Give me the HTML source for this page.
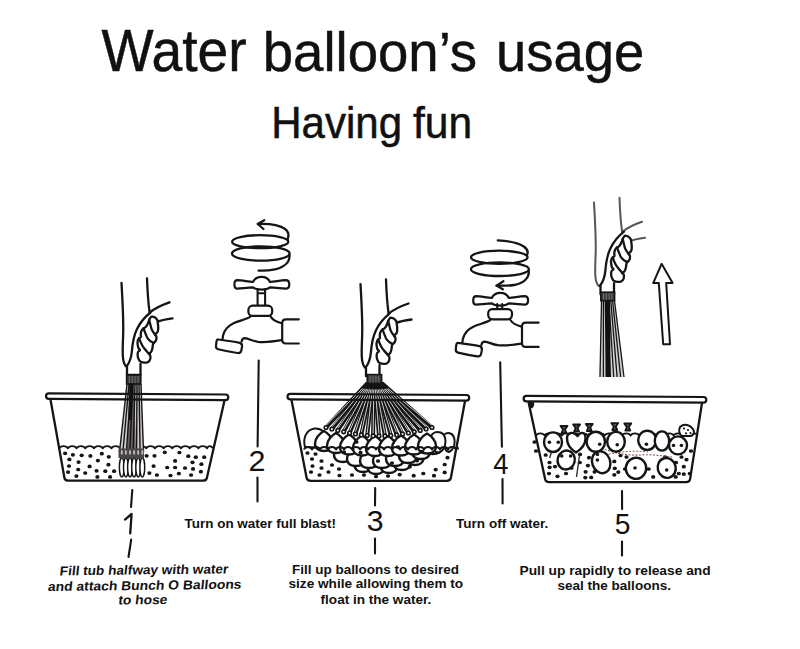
<!DOCTYPE html>
<html><head><meta charset="utf-8">
<style>
html,body{margin:0;padding:0;background:#fff;width:800px;height:649px;overflow:hidden}
svg{display:block}
text{font-family:"Liberation Sans",sans-serif;fill:#111}
</style></head>
<body>
<svg width="800" height="649" viewBox="0 0 800 649">
<rect width="800" height="649" fill="#fff"/>
<text x="101.40" y="71.00" font-size="58.5" font-weight="normal" font-style="normal" textLength="145.18" lengthAdjust="spacingAndGlyphs" stroke="#111" stroke-width="0.5">Water</text>
<g transform="translate(0,3.55) scale(1,0.95)"><text x="262.80" y="71.00" font-size="58.5" font-weight="normal" font-style="normal" textLength="214.23" lengthAdjust="spacingAndGlyphs" stroke="#111" stroke-width="0.5">balloon’s</text></g>
<g transform="translate(0,3.55) scale(1,0.95)"><text x="496.00" y="71.00" font-size="58.5" font-weight="normal" font-style="normal" textLength="148.19" lengthAdjust="spacingAndGlyphs" stroke="#111" stroke-width="0.5">usage</text></g>
<text x="271.20" y="137.90" font-size="44" font-weight="normal" font-style="normal" textLength="130.87" lengthAdjust="spacingAndGlyphs" stroke="#111" stroke-width="0.5">Having</text>
<text x="413.00" y="137.90" font-size="44" font-weight="normal" font-style="normal" textLength="59.13" lengthAdjust="spacingAndGlyphs" stroke="#111" stroke-width="0.5">fun</text>
<text x="248.60" y="470.88" font-size="29" font-weight="normal" font-style="normal" textLength="16.97" lengthAdjust="spacingAndGlyphs">2</text>
<text x="366.80" y="531.08" font-size="29" font-weight="normal" font-style="normal" textLength="16.79" lengthAdjust="spacingAndGlyphs">3</text>
<text x="493.30" y="473.58" font-size="29" font-weight="normal" font-style="normal" textLength="15.20" lengthAdjust="spacingAndGlyphs">4</text>
<text x="614.80" y="534.48" font-size="29" font-weight="normal" font-style="normal" textLength="15.71" lengthAdjust="spacingAndGlyphs">5</text>
<text x="184.60" y="527.52" font-size="13.5" font-weight="bold" font-style="normal" textLength="151.43" lengthAdjust="spacingAndGlyphs">Turn on water full blast!</text>
<text x="456.10" y="527.52" font-size="13.5" font-weight="bold" font-style="normal" textLength="92.15" lengthAdjust="spacingAndGlyphs">Turn off water.</text>
<g transform="rotate(-0.7 144 585)"><g transform="translate(70.52,0) skewX(-7)"><text x="59.50" y="574.36" font-size="13" font-weight="bold" textLength="168.52" lengthAdjust="spacingAndGlyphs">Fill tub halfway with water</text></g></g>
<g transform="rotate(-0.7 144 585)"><g transform="translate(72.43,0) skewX(-7)"><text x="47.50" y="589.86" font-size="13" font-weight="bold" textLength="193.53" lengthAdjust="spacingAndGlyphs">and attach Bunch O Balloons</text></g></g>
<g transform="rotate(-0.7 144 585)"><g transform="translate(74.19,0) skewX(-7)"><text x="117.75" y="604.26" font-size="13" font-weight="bold" textLength="49.01" lengthAdjust="spacingAndGlyphs">to hose</text></g></g>
<text x="292.00" y="574.26" font-size="13" font-weight="bold" font-style="normal" textLength="166.93" lengthAdjust="spacingAndGlyphs">Fill up balloons to desired</text>
<text x="288.50" y="588.46" font-size="13" font-weight="bold" font-style="normal" textLength="174.63" lengthAdjust="spacingAndGlyphs">size while allowing them to</text>
<text x="320.60" y="603.56" font-size="13" font-weight="bold" font-style="normal" textLength="110.66" lengthAdjust="spacingAndGlyphs">float in the water.</text>
<text x="519.50" y="574.86" font-size="13" font-weight="bold" font-style="normal" textLength="191.09" lengthAdjust="spacingAndGlyphs">Pull up rapidly to release and</text>
<text x="557.40" y="590.16" font-size="13" font-weight="bold" font-style="normal" textLength="113.59" lengthAdjust="spacingAndGlyphs">seal the balloons.</text>
<path d="M125,519.6 L131.6,514 L130.2,533.3" fill="none" stroke="#151515" stroke-width="2.3" stroke-linecap="round" stroke-linejoin="round"/>
<defs><g id="handArms" fill="none" stroke="currentColor" stroke-linecap="round" stroke-linejoin="round">
<path d="M121.5,283 C122.5,300 123.5,318 123.2,332 C123,345 121.8,355 123.5,361 C124.3,364 125.3,366 126.5,366.5"/>
<path d="M147,278.3 C147.5,292 148.3,303 149.5,311.5"/>
<path d="M149.5,312.5 C156,307.5 163,304.5 169.5,302.3"/>
<path d="M155.5,322.5 C161,320 166,319 172.5,318.3"/>
</g>
<g id="handGrip" fill="none" stroke="#151515" stroke-width="2.3" stroke-linecap="round" stroke-linejoin="round">
<path d="M126.5,366.5 C128.5,364 131,360 131.8,352 C132.5,343 133.5,336 137,329 C141,321 146,316 150.5,312.5"/>
<path fill="#fff" d="M152.40,316.60 C154.26,316.84 154.78,316.79 156.40,318.80 C158.02,320.81 157.26,320.33 157.80,323.30 C158.34,326.27 158.35,326.03 158.20,328.70 C158.05,331.37 158.23,330.46 157.30,332.20 C156.37,333.94 155.37,333.15 155.10,334.50 C154.83,335.85 156.13,334.96 156.40,336.70 C156.67,338.44 156.78,338.41 156.00,340.30 C155.22,342.19 154.73,341.68 153.80,343.00 C152.87,344.32 153.32,343.11 152.90,344.70 C152.48,346.29 152.94,346.14 152.40,348.30 C151.86,350.46 152.15,350.28 151.10,351.90 C150.05,353.52 149.17,352.65 148.90,353.70 C148.63,354.75 149.81,353.81 150.20,355.40 C150.59,356.99 150.74,357.11 150.20,359.00 C149.66,360.89 149.87,360.62 148.40,361.70 C146.93,362.78 147.58,362.60 145.30,362.60 C143.02,362.60 142.81,362.78 140.80,361.70 C138.79,360.62 139.53,360.89 138.60,359.00 C137.67,357.11 137.85,357.53 137.70,355.40 C137.55,353.27 137.44,353.49 138.10,351.90 C138.76,350.31 139.75,351.18 139.90,350.10 C140.05,349.02 139.26,349.92 138.60,348.30 C137.94,346.68 137.97,346.83 137.70,344.70 C137.43,342.57 137.31,343.06 137.70,341.20 C138.09,339.34 138.07,339.73 139.00,338.50 C139.93,337.27 140.26,338.18 140.80,337.10 C141.34,336.02 140.65,336.64 140.80,334.90 C140.95,333.16 140.61,333.16 141.30,331.30 C141.99,329.44 141.90,329.90 143.10,328.70 C144.30,327.50 143.98,328.65 145.30,327.30 C146.62,325.95 146.42,326.21 147.50,324.20 C148.58,322.19 148.09,322.46 148.90,320.60 C149.71,318.74 149.15,319.20 150.20,318.00 C151.25,316.80 150.54,316.36 152.40,316.60 Z"/>
<path d="M149.20,319.60 C149.62,321.37 149.67,322.20 150.60,325.50 C151.53,328.80 150.95,327.90 152.30,330.60 C153.65,333.30 154.26,333.33 155.10,334.50"/>
<path d="M143.60,328.30 C144.26,330.07 144.30,330.87 145.80,334.20 C147.30,337.53 146.20,336.76 148.60,339.40 C151.00,342.04 152.24,341.92 153.80,343.00"/>
<path d="M139.30,338.30 C139.93,339.95 139.81,340.65 141.40,343.80 C142.99,346.95 142.35,345.83 144.60,348.80 C146.85,351.77 147.61,352.23 148.90,353.70"/>
<path d="M127,366.5 L127,375 M140.5,364 L140.5,375 M127,375 L140.5,375"/>
</g></defs>
<use href="#handArms" style="color:#151515" stroke-width="2.3"/>
<use href="#handGrip"/>
<use href="#handArms" style="color:#151515" stroke-width="2.3" transform="translate(239,1.2)"/>
<use href="#handGrip" transform="translate(239,1.2)"/>
<use href="#handArms" style="color:#555" stroke-width="2" transform="translate(472.5,-80.5)"/>
<use href="#handGrip" transform="translate(473.5,-80.8)"/>
<defs><g id="fbody" fill="none" stroke="#151515" stroke-width="2.2" stroke-linecap="round" stroke-linejoin="round">
<rect x="248.4" y="305.7" width="23.8" height="10.2" rx="4.2" fill="#fff"/>
<path d="M250.4,316.6 C246,319.5 240,320.5 234,323 C228,325.8 224.5,330 223.2,335 C222.8,337 222.6,338.5 222.5,339.8"/>
<path d="M270.6,316.6 C272.5,319.5 276,321.8 281.6,323.2"/>
<path d="M241.6,341.5 C242,339.5 242.8,338.2 245,338.2 C249,338.5 252,341 258,341.8 C266,342.6 274,341.5 281.5,340.2"/>
<path d="M218.6,339.5 C224,340.2 233,341.4 239.8,342.8 C242.2,343.3 242.3,345 242,347 L241.3,350.5 C240.9,352.6 239.6,353.3 237.5,353 C231,352 224,350.6 218.2,349.2 C216.2,348.7 215.7,347.4 216,345.5 L216.5,341.5 C216.8,339.8 217.4,339.3 218.6,339.5 Z"/>
<path d="M298.8,319.3 L286,319.3 C283.5,319.3 282.2,320.5 282.2,323 L282.2,339.8 C282.2,342.3 283.5,343.5 286,343.5 L298.8,343.5"/>
</g></defs>
<use href="#fbody"/>
<use href="#fbody" transform="translate(239.8,3.4)"/>
<g transform="translate(0,0)" fill="#fff" stroke="#151515" stroke-width="2.2" stroke-linejoin="round"><path d="M237.5,280.2 C242,280.4 248,281.6 253,282 C254.5,278.5 258,276.8 261.5,276.8 C265,276.8 268.5,278.5 270,282 C275,281.6 281,280.4 285.5,280.2 C288.3,280.2 289.3,282.3 289.3,284.4 C289.3,286.6 288.3,288.6 285.5,288.6 C281,288.4 275,287.5 270,287.4 C268,289.2 265,289.6 261.5,289.6 C258,289.6 255,289.2 253,287.4 C248,287.5 242,288.4 237.5,288.6 C235.3,288.6 234.4,286.6 234.4,284.4 C234.4,282.3 235.3,280.2 237.5,280.2 Z"/></g>
<g transform="translate(238.8,16)" fill="#fff" stroke="#151515" stroke-width="2.2" stroke-linejoin="round"><path d="M237.5,280.2 C242,280.4 248,281.6 253,282 C254.5,278.5 258,276.8 261.5,276.8 C265,276.8 268.5,278.5 270,282 C275,281.6 281,280.4 285.5,280.2 C288.3,280.2 289.3,282.3 289.3,284.4 C289.3,286.6 288.3,288.6 285.5,288.6 C281,288.4 275,287.5 270,287.4 C268,289.2 265,289.6 261.5,289.6 C258,289.6 255,289.2 253,287.4 C248,287.5 242,288.4 237.5,288.6 C235.3,288.6 234.4,286.6 234.4,284.4 C234.4,282.3 235.3,280.2 237.5,280.2 Z"/></g>
<g fill="none" stroke="#151515" stroke-width="2.1" stroke-linecap="round"><path d="M257.6,289 L257.6,305 M265.1,289 L265.1,305 M257.6,293.2 L265.1,293.2"/><path d="M497.2,304 L497.2,308.5 M502.2,304 L502.2,308.5"/></g>
<g fill="none" stroke="#151515" stroke-width="2.3" stroke-linecap="round" stroke-linejoin="round">
<ellipse cx="260.2" cy="241.7" rx="28.1" ry="6.5"/>
<ellipse cx="260.8" cy="253.5" rx="28.8" ry="7.2"/>
<path d="M257.8,224 C268,223.5 279,225 284.8,228.8 C288.6,231.5 289.2,235.5 287.6,239.5"/>
<path d="M264.2,220.2 L257.8,224 L263.5,229"/>
<path d="M289.5,255 C290,262 284.5,267.3 275,269.4 C268.5,270.7 263,270.8 258.6,270.6"/>
<ellipse cx="499.3" cy="257.3" rx="28.3" ry="6.6"/>
<ellipse cx="499.9" cy="269.2" rx="29" ry="6.8"/>
<path d="M497.8,240.4 C508,240.8 518,242.8 523.8,246.5 C527.5,249.2 528.3,252.5 527,255"/>
<path d="M528.7,270.5 C529.8,277.5 524,283.2 514,285 C508,286 502,285.8 496.6,285.6"/>
<path d="M503.4,281.2 L496.6,285.6 L502.8,289.3"/>
</g>
<path d="M661.6,263.8 L672.6,283 L666.2,283.1 L670,344.2 L663.2,344.3 L658.8,283.1 L653.2,283.1 Z" fill="#fff" stroke="#151515" stroke-width="2" stroke-linejoin="round"/>
<path d="M601.3,300.6 L599.5,377 L624,377 L614.6,300.6 Z" fill="#d0d0d0"/>
<line x1="601.5" y1="300.6" x2="600.0" y2="377" stroke="#151515" stroke-width="1.3"/>
<line x1="603.4" y1="300.6" x2="603.4" y2="377" stroke="#151515" stroke-width="1.3"/>
<line x1="605.2" y1="300.6" x2="606.9" y2="377" stroke="#151515" stroke-width="1.3"/>
<line x1="607.1" y1="300.6" x2="610.3" y2="377" stroke="#151515" stroke-width="1.3"/>
<line x1="608.9" y1="300.6" x2="613.7" y2="377" stroke="#151515" stroke-width="1.3"/>
<line x1="610.8" y1="300.6" x2="617.1" y2="377" stroke="#151515" stroke-width="1.3"/>
<line x1="612.6" y1="300.6" x2="620.6" y2="377" stroke="#151515" stroke-width="1.3"/>
<line x1="614.5" y1="300.6" x2="624.0" y2="377" stroke="#151515" stroke-width="1.3"/>
<path d="M605.5,300.6 L605.5,377 L610.5,377 L610,300.6 Z" fill="#111"/>
<rect x="600.8" y="292.2" width="13.8" height="8.4" fill="#3a3a3a" stroke="#151515" stroke-width="1.6"/>
<line x1="603.6" y1="293.2" x2="603.6" y2="299.59999999999997" stroke="#888" stroke-width="0.7"/>
<line x1="606.3" y1="293.2" x2="606.3" y2="299.59999999999997" stroke="#888" stroke-width="0.7"/>
<line x1="609.1" y1="293.2" x2="609.1" y2="299.59999999999997" stroke="#888" stroke-width="0.7"/>
<line x1="611.8" y1="293.2" x2="611.8" y2="299.59999999999997" stroke="#888" stroke-width="0.7"/>
<path d="M59.2,448.3 C60.5,445.3 66.6,445.3 67.9,448.3 C69.2,445.3 75.3,445.3 76.6,448.3 C77.9,445.3 84.0,445.3 85.3,448.3 C86.6,445.3 92.7,445.3 94.0,448.3 C95.3,445.3 101.4,445.3 102.7,448.3 C104.0,445.3 110.1,445.3 111.4,448.3 C112.7,445.3 118.8,445.3 120.1,448.3 C121.4,445.3 127.5,445.3 128.8,448.3 C130.1,445.3 136.2,445.3 137.5,448.3 C138.8,445.3 144.9,445.3 146.2,448.3 C147.5,445.3 153.6,445.3 154.9,448.3 C156.2,445.3 162.3,445.3 163.6,448.3 C164.9,445.3 171.0,445.3 172.3,448.3 C173.6,445.3 179.7,445.3 181.0,448.3 C182.3,445.3 188.4,445.3 189.7,448.3 C191.0,445.3 197.1,445.3 198.4,448.3 C199.7,445.3 205.8,445.3 207.1,448.3 C207.9,445.3 211.7,445.3 212.5,448.3" fill="none" stroke="#151515" stroke-width="1.8" stroke-linejoin="round"/>
<ellipse cx="65.1" cy="453.3" rx="2.1" ry="1.85" fill="#151515"/>
<ellipse cx="72.9" cy="454.8" rx="2.1" ry="1.85" fill="#151515"/>
<ellipse cx="81.7" cy="455.3" rx="2.1" ry="1.85" fill="#151515"/>
<ellipse cx="90.4" cy="455.9" rx="2.1" ry="1.85" fill="#151515"/>
<ellipse cx="101.8" cy="453.7" rx="2.1" ry="1.85" fill="#151515"/>
<ellipse cx="108.8" cy="456.8" rx="2.1" ry="1.85" fill="#151515"/>
<ellipse cx="69.4" cy="459.4" rx="2.1" ry="1.85" fill="#151515"/>
<ellipse cx="78.6" cy="462.1" rx="2.1" ry="1.85" fill="#151515"/>
<ellipse cx="97.9" cy="460.6" rx="2.1" ry="1.85" fill="#151515"/>
<ellipse cx="69.0" cy="466.0" rx="2.1" ry="1.85" fill="#151515"/>
<ellipse cx="89.6" cy="466.4" rx="2.1" ry="1.85" fill="#151515"/>
<ellipse cx="108.4" cy="464.7" rx="2.1" ry="1.85" fill="#151515"/>
<ellipse cx="78.2" cy="469.5" rx="2.1" ry="1.85" fill="#151515"/>
<ellipse cx="68.1" cy="472.1" rx="2.1" ry="1.85" fill="#151515"/>
<ellipse cx="85.2" cy="473.0" rx="2.1" ry="1.85" fill="#151515"/>
<ellipse cx="96.6" cy="470.8" rx="2.1" ry="1.85" fill="#151515"/>
<ellipse cx="105.3" cy="471.2" rx="2.1" ry="1.85" fill="#151515"/>
<ellipse cx="114.1" cy="471.2" rx="2.1" ry="1.85" fill="#151515"/>
<ellipse cx="76.4" cy="476.1" rx="2.1" ry="1.85" fill="#151515"/>
<ellipse cx="97.4" cy="476.9" rx="2.1" ry="1.85" fill="#151515"/>
<ellipse cx="110.1" cy="476.9" rx="2.1" ry="1.85" fill="#151515"/>
<ellipse cx="146.6" cy="455.8" rx="2.1" ry="1.85" fill="#151515"/>
<ellipse cx="154.5" cy="455.8" rx="2.1" ry="1.85" fill="#151515"/>
<ellipse cx="164.8" cy="452.3" rx="2.1" ry="1.85" fill="#151515"/>
<ellipse cx="179.4" cy="452.5" rx="2.1" ry="1.85" fill="#151515"/>
<ellipse cx="188.3" cy="456.2" rx="2.1" ry="1.85" fill="#151515"/>
<ellipse cx="195.8" cy="457.2" rx="2.1" ry="1.85" fill="#151515"/>
<ellipse cx="204.2" cy="457.2" rx="2.1" ry="1.85" fill="#151515"/>
<ellipse cx="175.1" cy="460.9" rx="2.1" ry="1.85" fill="#151515"/>
<ellipse cx="192.5" cy="462.3" rx="2.1" ry="1.85" fill="#151515"/>
<ellipse cx="201.4" cy="464.2" rx="2.1" ry="1.85" fill="#151515"/>
<ellipse cx="153.6" cy="466.1" rx="2.1" ry="1.85" fill="#151515"/>
<ellipse cx="167.2" cy="467.5" rx="2.1" ry="1.85" fill="#151515"/>
<ellipse cx="175.1" cy="467.5" rx="2.1" ry="1.85" fill="#151515"/>
<ellipse cx="185.0" cy="468.0" rx="2.1" ry="1.85" fill="#151515"/>
<ellipse cx="193.0" cy="468.9" rx="2.1" ry="1.85" fill="#151515"/>
<ellipse cx="200.9" cy="471.7" rx="2.1" ry="1.85" fill="#151515"/>
<ellipse cx="149.4" cy="473.1" rx="2.1" ry="1.85" fill="#151515"/>
<ellipse cx="156.9" cy="475.0" rx="2.1" ry="1.85" fill="#151515"/>
<ellipse cx="170.5" cy="475.5" rx="2.1" ry="1.85" fill="#151515"/>
<ellipse cx="178.9" cy="473.6" rx="2.1" ry="1.85" fill="#151515"/>
<ellipse cx="191.1" cy="475.0" rx="2.1" ry="1.85" fill="#151515"/>
<path d="M127,384 L119,452 L144,452 L141,384 Z" fill="#d0cccc"/>
<path d="M129,384 L127,452 L136,452 L134,384 Z" fill="#6a6060"/>
<line x1="127.0" y1="384" x2="119.5" y2="452" stroke="#151515" stroke-width="1.4"/>
<line x1="129.0" y1="384" x2="122.9" y2="452" stroke="#151515" stroke-width="1.4"/>
<line x1="131.0" y1="384" x2="126.4" y2="452" stroke="#151515" stroke-width="1.4"/>
<line x1="133.0" y1="384" x2="129.8" y2="452" stroke="#151515" stroke-width="1.4"/>
<line x1="135.0" y1="384" x2="133.2" y2="452" stroke="#151515" stroke-width="1.4"/>
<line x1="137.0" y1="384" x2="136.6" y2="452" stroke="#151515" stroke-width="1.4"/>
<line x1="139.0" y1="384" x2="140.1" y2="452" stroke="#151515" stroke-width="1.4"/>
<line x1="141.0" y1="384" x2="143.5" y2="452" stroke="#151515" stroke-width="1.4"/>
<path d="M129.5,384 L129,420 L131.5,420 L133,384 Z" fill="#111"/>
<ellipse cx="121.8" cy="467.3" rx="2.4" ry="9.6" fill="#fff" stroke="#151515" stroke-width="1.5"/>
<ellipse cx="125.9" cy="467.3" rx="2.4" ry="9.6" fill="#fff" stroke="#151515" stroke-width="1.5"/>
<ellipse cx="130.0" cy="467.3" rx="2.4" ry="9.6" fill="#fff" stroke="#151515" stroke-width="1.5"/>
<ellipse cx="134.1" cy="467.3" rx="2.4" ry="9.6" fill="#fff" stroke="#151515" stroke-width="1.5"/>
<ellipse cx="138.2" cy="467.3" rx="2.4" ry="9.6" fill="#fff" stroke="#151515" stroke-width="1.5"/>
<ellipse cx="142.3" cy="467.3" rx="2.4" ry="9.6" fill="#fff" stroke="#151515" stroke-width="1.5"/>
<rect x="118.5" y="448.5" width="25.5" height="9.5" fill="#4a4444"/>
<ellipse cx="121.8" cy="452.5" rx="1.0" ry="2.4" fill="#bbb"/>
<ellipse cx="125.9" cy="452.5" rx="1.0" ry="2.4" fill="#bbb"/>
<ellipse cx="130.0" cy="452.5" rx="1.0" ry="2.4" fill="#bbb"/>
<ellipse cx="134.1" cy="452.5" rx="1.0" ry="2.4" fill="#bbb"/>
<ellipse cx="138.2" cy="452.5" rx="1.0" ry="2.4" fill="#bbb"/>
<ellipse cx="142.3" cy="452.5" rx="1.0" ry="2.4" fill="#bbb"/>
<rect x="126.6" y="375" width="14.2" height="9" fill="#3a3a3a" stroke="#151515" stroke-width="1.6"/>
<line x1="129.4" y1="376" x2="129.4" y2="383" stroke="#888" stroke-width="0.7"/>
<line x1="132.3" y1="376" x2="132.3" y2="383" stroke="#888" stroke-width="0.7"/>
<line x1="135.1" y1="376" x2="135.1" y2="383" stroke="#888" stroke-width="0.7"/>
<line x1="138.0" y1="376" x2="138.0" y2="383" stroke="#888" stroke-width="0.7"/>
<rect x="46" y="393.9" width="182.3" height="5.6" rx="2.8" fill="none" stroke="#151515" stroke-width="2.2" transform="rotate(0.38 137.2 396.7)"/>
<path d="M50.5,399.5 L64.5,478.2 Q65.5,480.7 68.3,480.7 L203.0,480.7 Q205.8,480.7 206.8,478.2 L224.5,400.6" fill="none" stroke="#151515" stroke-width="2.3" stroke-linejoin="round"/>
<ellipse cx="307.5" cy="453.0" rx="2.1" ry="1.85" fill="#151515"/>
<ellipse cx="315.5" cy="454.0" rx="2.1" ry="1.85" fill="#151515"/>
<ellipse cx="312.0" cy="459.0" rx="2.1" ry="1.85" fill="#151515"/>
<ellipse cx="321.5" cy="461.0" rx="2.1" ry="1.85" fill="#151515"/>
<ellipse cx="312.5" cy="466.0" rx="2.1" ry="1.85" fill="#151515"/>
<ellipse cx="321.5" cy="468.0" rx="2.1" ry="1.85" fill="#151515"/>
<ellipse cx="332.0" cy="465.0" rx="2.1" ry="1.85" fill="#151515"/>
<ellipse cx="311.0" cy="472.0" rx="2.1" ry="1.85" fill="#151515"/>
<ellipse cx="319.5" cy="475.0" rx="2.1" ry="1.85" fill="#151515"/>
<ellipse cx="328.5" cy="472.0" rx="2.1" ry="1.85" fill="#151515"/>
<ellipse cx="339.5" cy="475.5" rx="2.1" ry="1.85" fill="#151515"/>
<ellipse cx="352.0" cy="475.0" rx="2.1" ry="1.85" fill="#151515"/>
<ellipse cx="364.0" cy="475.0" rx="2.1" ry="1.85" fill="#151515"/>
<ellipse cx="339.0" cy="469.0" rx="2.1" ry="1.85" fill="#151515"/>
<ellipse cx="447.5" cy="457.7" rx="2.1" ry="1.85" fill="#151515"/>
<ellipse cx="444.7" cy="464.5" rx="2.1" ry="1.85" fill="#151515"/>
<ellipse cx="435.7" cy="469.6" rx="2.1" ry="1.85" fill="#151515"/>
<ellipse cx="444.7" cy="472.4" rx="2.1" ry="1.85" fill="#151515"/>
<ellipse cx="434.0" cy="475.7" rx="2.1" ry="1.85" fill="#151515"/>
<ellipse cx="423.3" cy="473.5" rx="2.1" ry="1.85" fill="#151515"/>
<ellipse cx="413.7" cy="475.7" rx="2.1" ry="1.85" fill="#151515"/>
<ellipse cx="399.7" cy="474.6" rx="2.1" ry="1.85" fill="#151515"/>
<ellipse cx="388.0" cy="476.0" rx="2.1" ry="1.85" fill="#151515"/>
<ellipse cx="376.0" cy="476.5" rx="2.1" ry="1.85" fill="#151515"/>
<path d="M363.0,453.0 C367.2,455.3 371.5,460.2 371.5,464.8 C371.5,470.1 367.2,472.0 363.0,472.0 C358.8,472.0 354.5,470.1 354.5,464.8 C354.5,460.2 358.8,455.3 363.0,453.0 Z" fill="#fff" stroke="#151515" stroke-width="2.4" stroke-linejoin="round"/>
<path d="M376.0,455.0 C380.2,457.3 384.5,462.2 384.5,466.8 C384.5,472.1 380.2,474.0 376.0,474.0 C371.8,474.0 367.5,472.1 367.5,466.8 C367.5,462.2 371.8,457.3 376.0,455.0 Z" fill="#fff" stroke="#151515" stroke-width="2.4" stroke-linejoin="round"/>
<path d="M389.0,454.0 C393.2,456.3 397.5,461.2 397.5,465.8 C397.5,471.1 393.2,473.0 389.0,473.0 C384.8,473.0 380.5,471.1 380.5,465.8 C380.5,461.2 384.8,456.3 389.0,454.0 Z" fill="#fff" stroke="#151515" stroke-width="2.4" stroke-linejoin="round"/>
<path d="M402.0,451.0 C406.2,453.3 410.5,458.2 410.5,462.8 C410.5,468.1 406.2,470.0 402.0,470.0 C397.8,470.0 393.5,468.1 393.5,462.8 C393.5,458.2 397.8,453.3 402.0,451.0 Z" fill="#fff" stroke="#151515" stroke-width="2.4" stroke-linejoin="round"/>
<path d="M415.0,446.0 C419.2,448.3 423.5,453.2 423.5,457.8 C423.5,463.1 419.2,465.0 415.0,465.0 C410.8,465.0 406.5,463.1 406.5,457.8 C406.5,453.2 410.8,448.3 415.0,446.0 Z" fill="#fff" stroke="#151515" stroke-width="2.4" stroke-linejoin="round"/>
<path d="M343.0,443.0 C347.5,445.3 352.0,450.2 352.0,454.8 C352.0,460.1 347.5,462.0 343.0,462.0 C338.5,462.0 334.0,460.1 334.0,454.8 C334.0,450.2 338.5,445.3 343.0,443.0 Z" fill="#fff" stroke="#151515" stroke-width="2.4" stroke-linejoin="round"/>
<path d="M356.0,447.0 C360.5,449.3 365.0,454.2 365.0,458.8 C365.0,464.1 360.5,466.0 356.0,466.0 C351.5,466.0 347.0,464.1 347.0,458.8 C347.0,454.2 351.5,449.3 356.0,447.0 Z" fill="#fff" stroke="#151515" stroke-width="2.4" stroke-linejoin="round"/>
<path d="M369.0,449.0 C373.5,451.3 378.0,456.2 378.0,460.8 C378.0,466.1 373.5,468.0 369.0,468.0 C364.5,468.0 360.0,466.1 360.0,460.8 C360.0,456.2 364.5,451.3 369.0,449.0 Z" fill="#fff" stroke="#151515" stroke-width="2.4" stroke-linejoin="round"/>
<path d="M382.0,449.0 C386.5,451.3 391.0,456.2 391.0,460.8 C391.0,466.1 386.5,468.0 382.0,468.0 C377.5,468.0 373.0,466.1 373.0,460.8 C373.0,456.2 377.5,451.3 382.0,449.0 Z" fill="#fff" stroke="#151515" stroke-width="2.4" stroke-linejoin="round"/>
<path d="M395.0,447.0 C399.5,449.3 404.0,454.2 404.0,458.8 C404.0,464.1 399.5,466.0 395.0,466.0 C390.5,466.0 386.0,464.1 386.0,458.8 C386.0,454.2 390.5,449.3 395.0,447.0 Z" fill="#fff" stroke="#151515" stroke-width="2.4" stroke-linejoin="round"/>
<path d="M408.0,444.0 C412.5,446.3 417.0,451.2 417.0,455.8 C417.0,461.1 412.5,463.0 408.0,463.0 C403.5,463.0 399.0,461.1 399.0,455.8 C399.0,451.2 403.5,446.3 408.0,444.0 Z" fill="#fff" stroke="#151515" stroke-width="2.4" stroke-linejoin="round"/>
<path d="M421.0,440.0 C425.5,442.3 430.0,447.2 430.0,451.8 C430.0,457.1 425.5,459.0 421.0,459.0 C416.5,459.0 412.0,457.1 412.0,451.8 C412.0,447.2 416.5,442.3 421.0,440.0 Z" fill="#fff" stroke="#151515" stroke-width="2.4" stroke-linejoin="round"/>
<path d="M433.0,435.0 C437.5,437.3 442.0,442.2 442.0,446.8 C442.0,452.1 437.5,454.0 433.0,454.0 C428.5,454.0 424.0,452.1 424.0,446.8 C424.0,442.2 428.5,437.3 433.0,435.0 Z" fill="#fff" stroke="#151515" stroke-width="2.4" stroke-linejoin="round"/>
<path d="M305,447 C303,440 305,430 314.5,428.5 C322,428 326,433 326,440 C326,444 325,447 324,448 Z" fill="#fff" stroke="#151515" stroke-width="2" stroke-linejoin="round"/>
<path d="M446.5,451 C443.5,447 441.5,441 442.5,437.5 C444,433 448,432.5 450.5,433.5 C454.5,435 455.5,441 454,446 C453,449 451,451 449,452 Z" fill="#fff" stroke="#151515" stroke-width="2" stroke-linejoin="round"/>
<path d="M436,452 C431.5,448 429.5,441 431,436.5 C432.5,432 437,431.5 440.5,432.5 C445,434 446.5,440 445,445.5 C444,449 441.5,451.5 439,452.5 Z" fill="#fff" stroke="#151515" stroke-width="2" stroke-linejoin="round"/>
<path d="M324.0,431.0 C328.5,433.4 333.0,438.6 333.0,443.4 C333.0,449.0 328.5,451.0 324.0,451.0 C319.5,451.0 315.0,449.0 315.0,443.4 C315.0,438.6 319.5,433.4 324.0,431.0 Z" fill="#fff" stroke="#151515" stroke-width="2.4" stroke-linejoin="round"/>
<path d="M336.0,433.0 C340.5,435.4 345.0,440.6 345.0,445.4 C345.0,451.0 340.5,453.0 336.0,453.0 C331.5,453.0 327.0,451.0 327.0,445.4 C327.0,440.6 331.5,435.4 336.0,433.0 Z" fill="#fff" stroke="#151515" stroke-width="2.4" stroke-linejoin="round"/>
<path d="M349.0,434.5 C353.5,436.9 358.0,442.1 358.0,446.9 C358.0,452.5 353.5,454.5 349.0,454.5 C344.5,454.5 340.0,452.5 340.0,446.9 C340.0,442.1 344.5,436.9 349.0,434.5 Z" fill="#fff" stroke="#151515" stroke-width="2.4" stroke-linejoin="round"/>
<path d="M362.0,435.5 C366.5,437.9 371.0,443.1 371.0,447.9 C371.0,453.5 366.5,455.5 362.0,455.5 C357.5,455.5 353.0,453.5 353.0,447.9 C353.0,443.1 357.5,437.9 362.0,435.5 Z" fill="#fff" stroke="#151515" stroke-width="2.4" stroke-linejoin="round"/>
<path d="M375.0,436.0 C379.5,438.4 384.0,443.6 384.0,448.4 C384.0,454.0 379.5,456.0 375.0,456.0 C370.5,456.0 366.0,454.0 366.0,448.4 C366.0,443.6 370.5,438.4 375.0,436.0 Z" fill="#fff" stroke="#151515" stroke-width="2.4" stroke-linejoin="round"/>
<path d="M388.0,436.0 C392.5,438.4 397.0,443.6 397.0,448.4 C397.0,454.0 392.5,456.0 388.0,456.0 C383.5,456.0 379.0,454.0 379.0,448.4 C379.0,443.6 383.5,438.4 388.0,436.0 Z" fill="#fff" stroke="#151515" stroke-width="2.4" stroke-linejoin="round"/>
<path d="M401.0,435.5 C405.5,437.9 410.0,443.1 410.0,447.9 C410.0,453.5 405.5,455.5 401.0,455.5 C396.5,455.5 392.0,453.5 392.0,447.9 C392.0,443.1 396.5,437.9 401.0,435.5 Z" fill="#fff" stroke="#151515" stroke-width="2.4" stroke-linejoin="round"/>
<path d="M414.0,434.5 C418.5,436.9 423.0,442.1 423.0,446.9 C423.0,452.5 418.5,454.5 414.0,454.5 C409.5,454.5 405.0,452.5 405.0,446.9 C405.0,442.1 409.5,436.9 414.0,434.5 Z" fill="#fff" stroke="#151515" stroke-width="2.4" stroke-linejoin="round"/>
<path d="M427.0,433.5 C431.5,435.9 436.0,441.1 436.0,445.9 C436.0,451.5 431.5,453.5 427.0,453.5 C422.5,453.5 418.0,451.5 418.0,445.9 C418.0,441.1 422.5,435.9 427.0,433.5 Z" fill="#fff" stroke="#151515" stroke-width="2.4" stroke-linejoin="round"/>
<path d="M304.0,449.5 C305.2,446.1 310.8,446.1 312.0,449.5 C313.2,446.1 318.8,446.1 320.0,449.5 C321.2,446.1 326.8,446.1 328.0,449.5 C329.2,446.1 334.8,446.1 336.0,449.5 C337.2,446.1 342.8,446.1 344.0,449.5 C345.2,446.1 350.8,446.1 352.0,449.5 C353.2,446.1 358.8,446.1 360.0,449.5 C361.2,446.1 366.8,446.1 368.0,449.5 C369.2,446.1 374.8,446.1 376.0,449.5 C377.2,446.1 382.8,446.1 384.0,449.5 C385.2,446.1 390.8,446.1 392.0,449.5 C393.2,446.1 398.8,446.1 400.0,449.5 C401.2,446.1 406.8,446.1 408.0,449.5 C409.2,446.1 414.8,446.1 416.0,449.5 C417.2,446.1 422.8,446.1 424.0,449.5 C425.2,446.1 430.8,446.1 432.0,449.5 C433.2,446.1 438.8,446.1 440.0,449.5 C441.2,446.1 446.8,446.1 448.0,449.5 C449.2,446.1 454.8,446.1 456.0,449.5 C456.3,446.1 457.7,446.1 458.0,449.5" fill="none" stroke="#151515" stroke-width="2.0" stroke-linejoin="round"/>
<ellipse cx="356.5" cy="442.0" rx="2.1" ry="1.85" fill="#151515"/>
<ellipse cx="344.0" cy="452.0" rx="2.1" ry="1.85" fill="#151515"/>
<ellipse cx="360.5" cy="452.5" rx="2.1" ry="1.85" fill="#151515"/>
<ellipse cx="422.2" cy="451.6" rx="2.1" ry="1.85" fill="#151515"/>
<ellipse cx="417.1" cy="460.6" rx="2.1" ry="1.85" fill="#151515"/>
<ellipse cx="409.8" cy="466.7" rx="2.1" ry="1.85" fill="#151515"/>
<ellipse cx="378.0" cy="461.0" rx="2.1" ry="1.85" fill="#151515"/>
<ellipse cx="392.0" cy="463.0" rx="2.1" ry="1.85" fill="#151515"/>
<ellipse cx="398.0" cy="447.0" rx="2.1" ry="1.85" fill="#151515"/>
<g stroke-linecap="butt">
<line x1="367.5" y1="383.2" x2="326.0" y2="427.5" stroke="#151515" stroke-width="4.0"/>
<line x1="368.3" y1="383.2" x2="331.9" y2="429.0" stroke="#151515" stroke-width="4.0"/>
<line x1="369.1" y1="383.2" x2="337.8" y2="430.4" stroke="#151515" stroke-width="4.0"/>
<line x1="369.9" y1="383.2" x2="343.7" y2="431.8" stroke="#151515" stroke-width="4.0"/>
<line x1="370.7" y1="383.2" x2="349.6" y2="433.0" stroke="#151515" stroke-width="4.0"/>
<line x1="371.5" y1="383.2" x2="355.4" y2="434.0" stroke="#151515" stroke-width="4.0"/>
<line x1="372.3" y1="383.2" x2="361.3" y2="434.9" stroke="#151515" stroke-width="4.0"/>
<line x1="373.1" y1="383.2" x2="367.2" y2="435.5" stroke="#151515" stroke-width="4.0"/>
<line x1="373.9" y1="383.2" x2="373.1" y2="435.9" stroke="#151515" stroke-width="4.0"/>
<line x1="374.8" y1="383.2" x2="379.0" y2="436.0" stroke="#151515" stroke-width="4.0"/>
<line x1="375.6" y1="383.2" x2="384.9" y2="435.9" stroke="#151515" stroke-width="4.0"/>
<line x1="376.4" y1="383.2" x2="390.8" y2="435.5" stroke="#151515" stroke-width="4.0"/>
<line x1="377.2" y1="383.2" x2="396.7" y2="434.9" stroke="#151515" stroke-width="4.0"/>
<line x1="378.0" y1="383.2" x2="402.6" y2="434.0" stroke="#151515" stroke-width="4.0"/>
<line x1="378.8" y1="383.2" x2="408.4" y2="433.0" stroke="#151515" stroke-width="4.0"/>
<line x1="379.6" y1="383.2" x2="414.3" y2="431.8" stroke="#151515" stroke-width="4.0"/>
<line x1="380.4" y1="383.2" x2="420.2" y2="430.4" stroke="#151515" stroke-width="4.0"/>
<line x1="381.2" y1="383.2" x2="426.1" y2="429.0" stroke="#151515" stroke-width="4.0"/>
<line x1="382.0" y1="383.2" x2="432.0" y2="427.5" stroke="#151515" stroke-width="4.0"/>
<line x1="362.5" y1="388.5" x2="326.0" y2="425.5" stroke="#fff" stroke-width="0.8"/>
<line x1="363.9" y1="388.7" x2="331.9" y2="427.0" stroke="#fff" stroke-width="0.8"/>
<line x1="365.4" y1="388.9" x2="337.8" y2="428.4" stroke="#fff" stroke-width="0.8"/>
<line x1="366.8" y1="389.0" x2="343.7" y2="429.8" stroke="#fff" stroke-width="0.8"/>
<line x1="368.2" y1="389.2" x2="349.6" y2="431.0" stroke="#fff" stroke-width="0.8"/>
<line x1="369.6" y1="389.3" x2="355.4" y2="432.0" stroke="#fff" stroke-width="0.8"/>
<line x1="371.0" y1="389.4" x2="361.3" y2="432.9" stroke="#fff" stroke-width="0.8"/>
<line x1="372.4" y1="389.5" x2="367.2" y2="433.5" stroke="#fff" stroke-width="0.8"/>
<line x1="373.8" y1="389.5" x2="373.1" y2="433.9" stroke="#fff" stroke-width="0.8"/>
<line x1="375.3" y1="389.5" x2="379.0" y2="434.0" stroke="#fff" stroke-width="0.8"/>
<line x1="376.7" y1="389.5" x2="384.9" y2="433.9" stroke="#fff" stroke-width="0.8"/>
<line x1="378.1" y1="389.5" x2="390.8" y2="433.5" stroke="#fff" stroke-width="0.8"/>
<line x1="379.5" y1="389.4" x2="396.7" y2="432.9" stroke="#fff" stroke-width="0.8"/>
<line x1="380.9" y1="389.3" x2="402.6" y2="432.0" stroke="#fff" stroke-width="0.8"/>
<line x1="382.3" y1="389.2" x2="408.4" y2="431.0" stroke="#fff" stroke-width="0.8"/>
<line x1="383.8" y1="389.0" x2="414.3" y2="429.8" stroke="#fff" stroke-width="0.8"/>
<line x1="385.2" y1="388.9" x2="420.2" y2="428.4" stroke="#fff" stroke-width="0.8"/>
<line x1="386.6" y1="388.7" x2="426.1" y2="427.0" stroke="#fff" stroke-width="0.8"/>
<line x1="388.0" y1="388.5" x2="432.0" y2="425.5" stroke="#fff" stroke-width="0.8"/>
</g>
<circle cx="326.0" cy="427.5" r="1.8" fill="#fff" stroke="#151515" stroke-width="1.6"/>
<circle cx="331.9" cy="429.0" r="1.8" fill="#fff" stroke="#151515" stroke-width="1.6"/>
<circle cx="337.8" cy="430.4" r="1.8" fill="#fff" stroke="#151515" stroke-width="1.6"/>
<circle cx="343.7" cy="431.8" r="1.8" fill="#fff" stroke="#151515" stroke-width="1.6"/>
<circle cx="349.6" cy="433.0" r="1.8" fill="#fff" stroke="#151515" stroke-width="1.6"/>
<circle cx="355.4" cy="434.0" r="1.8" fill="#fff" stroke="#151515" stroke-width="1.6"/>
<circle cx="361.3" cy="434.9" r="1.8" fill="#fff" stroke="#151515" stroke-width="1.6"/>
<circle cx="367.2" cy="435.5" r="1.8" fill="#fff" stroke="#151515" stroke-width="1.6"/>
<circle cx="373.1" cy="435.9" r="1.8" fill="#fff" stroke="#151515" stroke-width="1.6"/>
<circle cx="379.0" cy="436.0" r="1.8" fill="#fff" stroke="#151515" stroke-width="1.6"/>
<circle cx="384.9" cy="435.9" r="1.8" fill="#fff" stroke="#151515" stroke-width="1.6"/>
<circle cx="390.8" cy="435.5" r="1.8" fill="#fff" stroke="#151515" stroke-width="1.6"/>
<circle cx="396.7" cy="434.9" r="1.8" fill="#fff" stroke="#151515" stroke-width="1.6"/>
<circle cx="402.6" cy="434.0" r="1.8" fill="#fff" stroke="#151515" stroke-width="1.6"/>
<circle cx="408.4" cy="433.0" r="1.8" fill="#fff" stroke="#151515" stroke-width="1.6"/>
<circle cx="414.3" cy="431.8" r="1.8" fill="#fff" stroke="#151515" stroke-width="1.6"/>
<circle cx="420.2" cy="430.4" r="1.8" fill="#fff" stroke="#151515" stroke-width="1.6"/>
<circle cx="426.1" cy="429.0" r="1.8" fill="#fff" stroke="#151515" stroke-width="1.6"/>
<circle cx="432.0" cy="427.5" r="1.8" fill="#fff" stroke="#151515" stroke-width="1.6"/>
<rect x="367.3" y="374.6" width="14.3" height="8.8" fill="#3a3a3a" stroke="#151515" stroke-width="1.6"/>
<line x1="370.2" y1="375.6" x2="370.2" y2="382.40000000000003" stroke="#888" stroke-width="0.7"/>
<line x1="373.0" y1="375.6" x2="373.0" y2="382.40000000000003" stroke="#888" stroke-width="0.7"/>
<line x1="375.9" y1="375.6" x2="375.9" y2="382.40000000000003" stroke="#888" stroke-width="0.7"/>
<line x1="378.7" y1="375.6" x2="378.7" y2="382.40000000000003" stroke="#888" stroke-width="0.7"/>
<rect x="287.5" y="394.4" width="181.7" height="5.6" rx="2.8" fill="none" stroke="#151515" stroke-width="2.2" transform="rotate(0.38 378.4 397.2)"/>
<path d="M291.5,400 L306.7,478.3 Q307.7,480.8 310.5,480.8 L447.0,480.8 Q449.8,480.8 450.8,478.3 L465,401" fill="none" stroke="#151515" stroke-width="2.3" stroke-linejoin="round"/>
<ellipse cx="545.7" cy="455.0" rx="2.1" ry="1.85" fill="#151515"/>
<ellipse cx="549.6" cy="467.3" rx="2.1" ry="1.85" fill="#151515"/>
<ellipse cx="549.0" cy="473.5" rx="2.1" ry="1.85" fill="#151515"/>
<ellipse cx="557.5" cy="476.3" rx="2.1" ry="1.85" fill="#151515"/>
<ellipse cx="566.0" cy="473.5" rx="2.1" ry="1.85" fill="#151515"/>
<ellipse cx="587.9" cy="465.6" rx="2.1" ry="1.85" fill="#151515"/>
<ellipse cx="585.6" cy="471.8" rx="2.1" ry="1.85" fill="#151515"/>
<ellipse cx="594.6" cy="471.8" rx="2.1" ry="1.85" fill="#151515"/>
<ellipse cx="591.2" cy="477.4" rx="2.1" ry="1.85" fill="#151515"/>
<ellipse cx="580.0" cy="454.4" rx="2.1" ry="1.85" fill="#151515"/>
<ellipse cx="589.0" cy="457.7" rx="2.1" ry="1.85" fill="#151515"/>
<ellipse cx="614.3" cy="461.4" rx="2.1" ry="1.85" fill="#151515"/>
<ellipse cx="614.8" cy="468.3" rx="2.1" ry="1.85" fill="#151515"/>
<ellipse cx="614.3" cy="474.8" rx="2.1" ry="1.85" fill="#151515"/>
<ellipse cx="620.5" cy="455.5" rx="2.1" ry="1.85" fill="#151515"/>
<ellipse cx="625.0" cy="469.0" rx="2.1" ry="1.85" fill="#151515"/>
<ellipse cx="648.7" cy="469.0" rx="2.1" ry="1.85" fill="#151515"/>
<ellipse cx="653.2" cy="476.9" rx="2.1" ry="1.85" fill="#151515"/>
<ellipse cx="686.5" cy="459.6" rx="2.1" ry="1.85" fill="#151515"/>
<ellipse cx="683.8" cy="466.7" rx="2.1" ry="1.85" fill="#151515"/>
<ellipse cx="683.8" cy="474.1" rx="2.1" ry="1.85" fill="#151515"/>
<ellipse cx="675.7" cy="476.9" rx="2.1" ry="1.85" fill="#151515"/>
<ellipse cx="672.4" cy="469.0" rx="2.1" ry="1.85" fill="#151515"/>
<ellipse cx="691.0" cy="451.0" rx="2.1" ry="1.85" fill="#151515"/>
<ellipse cx="534.5" cy="442.0" rx="2.1" ry="1.85" fill="#151515"/>
<ellipse cx="536.0" cy="451.0" rx="2.1" ry="1.85" fill="#151515"/>
<ellipse cx="549.5" cy="462.5" rx="2.1" ry="1.85" fill="#151515"/>
<ellipse cx="555.0" cy="466.6" rx="2.1" ry="1.85" fill="#151515"/>
<ellipse cx="571.5" cy="468.0" rx="2.1" ry="1.85" fill="#151515"/>
<ellipse cx="579.8" cy="462.5" rx="2.1" ry="1.85" fill="#151515"/>
<ellipse cx="585.3" cy="477.6" rx="2.1" ry="1.85" fill="#151515"/>
<ellipse cx="618.3" cy="472.1" rx="2.1" ry="1.85" fill="#151515"/>
<ellipse cx="626.5" cy="457.0" rx="2.1" ry="1.85" fill="#151515"/>
<ellipse cx="643.0" cy="462.5" rx="2.1" ry="1.85" fill="#151515"/>
<ellipse cx="665.0" cy="457.0" rx="2.1" ry="1.85" fill="#151515"/>
<ellipse cx="676.0" cy="462.5" rx="2.1" ry="1.85" fill="#151515"/>
<ellipse cx="681.5" cy="457.0" rx="2.1" ry="1.85" fill="#151515"/>
<ellipse cx="689.8" cy="473.5" rx="2.1" ry="1.85" fill="#151515"/>
<ellipse cx="678.8" cy="473.5" rx="2.1" ry="1.85" fill="#151515"/>
<path d="M536.0,435.6 C537.3,432.6 543.3,432.6 544.6,435.6 C545.9,432.6 551.9,432.6 553.2,435.6 C554.5,432.6 560.5,432.6 561.8,435.6 C563.1,432.6 569.1,432.6 570.4,435.6 C571.7,432.6 577.7,432.6 579.0,435.6 C580.3,432.6 586.3,432.6 587.6,435.6 C588.9,432.6 594.9,432.6 596.2,435.6 C597.5,432.6 603.5,432.6 604.8,435.6 C606.1,432.6 612.1,432.6 613.4,435.6 C614.7,432.6 620.7,432.6 622.0,435.6 C623.3,432.6 629.3,432.6 630.6,435.6 C631.9,432.6 637.9,432.6 639.2,435.6 C640.5,432.6 646.5,432.6 647.8,435.6 C649.1,432.6 655.1,432.6 656.4,435.6 C657.7,432.6 663.7,432.6 665.0,435.6 C666.3,432.6 672.3,432.6 673.6,435.6 C674.9,432.6 680.9,432.6 682.2,435.6 C683.5,432.6 689.5,432.6 690.8,435.6 C691.8,432.6 696.5,432.6 697.5,435.6" fill="none" stroke="#151515" stroke-width="1.8" stroke-linejoin="round"/>
<path d="M598,447 C612,452 625,456 640,455 C652,454 662,456 672,457" stroke="#8a5a5a" stroke-width="1.1" stroke-dasharray="2 1.5" fill="none"/>
<path d="M605,455 C620,452 632,450 648,452" stroke="#8a5a5a" stroke-width="1.0" stroke-dasharray="2 1.5" fill="none"/>
<path d="M579.5,455.5 L576.5,477" stroke="#3a2a2a" stroke-width="1.4" fill="none"/>
<path d="M551.5,452 L549.6,458" stroke="#3a2a2a" stroke-width="1.4" fill="none"/>
<ellipse cx="566.2" cy="460" rx="8.6" ry="9.5" transform="rotate(15 566.2 460)" fill="#fff" stroke="#151515" stroke-width="2.4"/>
<ellipse cx="601.2" cy="462.2" rx="9" ry="11.2" transform="rotate(-20 601.2 462.2)" fill="#fff" stroke="#151515" stroke-width="2.4"/>
<ellipse cx="636" cy="468.3" rx="10.2" ry="10.6" transform="rotate(10 636 468.3)" fill="#fff" stroke="#151515" stroke-width="2.4"/>
<ellipse cx="666.7" cy="467.9" rx="9" ry="10" transform="rotate(-15 666.7 467.9)" fill="#fff" stroke="#151515" stroke-width="2.4"/>
<ellipse cx="553" cy="442.2" rx="9" ry="9.8" transform="rotate(0 553 442.2)" fill="#fff" stroke="#151515" stroke-width="2.4"/>
<path d="M577.5,436 C574,431.5 567,431.5 567,438.5 C567,445 572,450 576,452.5 C580,450 585.5,445 585.5,438.5 C585.5,431.5 580.5,431.5 577.5,436 Z" fill="#fff" stroke="#151515" stroke-width="2.4" stroke-linejoin="round"/>
<ellipse cx="595.8" cy="441.8" rx="9.2" ry="10" transform="rotate(0 595.8 441.8)" fill="#fff" stroke="#151515" stroke-width="2.4"/>
<ellipse cx="616" cy="441.8" rx="8.8" ry="9.9" transform="rotate(0 616 441.8)" fill="#fff" stroke="#151515" stroke-width="2.4"/>
<ellipse cx="647.2" cy="440.3" rx="9" ry="9.6" transform="rotate(0 647.2 440.3)" fill="#fff" stroke="#151515" stroke-width="2.4"/>
<ellipse cx="662" cy="441" rx="7.2" ry="9.6" transform="rotate(0 662 441)" fill="#fff" stroke="#151515" stroke-width="2.4"/>
<ellipse cx="678" cy="445.4" rx="9" ry="9" transform="rotate(0 678 445.4)" fill="#fff" stroke="#151515" stroke-width="2.4"/>
<ellipse cx="549.4" cy="442.2" rx="1.8" ry="1.7" fill="#151515"/>
<ellipse cx="558.3" cy="442.2" rx="1.8" ry="1.7" fill="#151515"/>
<ellipse cx="599.7" cy="444.2" rx="1.8" ry="1.7" fill="#151515"/>
<ellipse cx="617.2" cy="444.7" rx="1.8" ry="1.7" fill="#151515"/>
<ellipse cx="561.7" cy="456.0" rx="1.8" ry="1.7" fill="#151515"/>
<ellipse cx="570.6" cy="456.0" rx="1.8" ry="1.7" fill="#151515"/>
<ellipse cx="597.4" cy="454.4" rx="1.8" ry="1.7" fill="#151515"/>
<ellipse cx="597.4" cy="460.0" rx="1.8" ry="1.7" fill="#151515"/>
<ellipse cx="646.4" cy="444.2" rx="1.8" ry="1.7" fill="#151515"/>
<ellipse cx="673.5" cy="445.4" rx="1.8" ry="1.7" fill="#151515"/>
<ellipse cx="681.4" cy="445.4" rx="1.8" ry="1.7" fill="#151515"/>
<ellipse cx="635.0" cy="467.9" rx="1.8" ry="1.7" fill="#151515"/>
<ellipse cx="666.7" cy="470.0" rx="1.8" ry="1.7" fill="#151515"/>
<path d="M560.5,426.0 L567.5,426.0 L565.0,429.5 L566.5,433.0 L561.5,433.0 L563.0,429.5 Z" fill="#555" stroke="#151515" stroke-width="1.8" stroke-linejoin="round"/>
<path d="M573.1,424.5 L580.1,424.5 L577.6,428.0 L579.1,431.5 L574.1,431.5 L575.6,428.0 Z" fill="#555" stroke="#151515" stroke-width="1.8" stroke-linejoin="round"/>
<path d="M585.8,424.0 L592.8,424.0 L590.3,427.5 L591.8,431.0 L586.8,431.0 L588.3,427.5 Z" fill="#555" stroke="#151515" stroke-width="1.8" stroke-linejoin="round"/>
<path d="M611.3,423.1 L618.3,423.1 L615.8,426.6 L617.3,430.1 L612.3,430.1 L613.8,426.6 Z" fill="#555" stroke="#151515" stroke-width="1.8" stroke-linejoin="round"/>
<path d="M624.3,423.5 L631.3,423.5 L628.8,427.0 L630.3,430.5 L625.3,430.5 L626.8,427.0 Z" fill="#555" stroke="#151515" stroke-width="1.8" stroke-linejoin="round"/>
<path d="M680,427 C684,423.5 690,424 693.5,430 C695,433 693,436 690,436 L682,436 C679,434 678.5,430 680,427 Z" fill="#fff" stroke="#151515" stroke-width="2"/>
<ellipse cx="684.0" cy="428.5" rx="1.1" ry="1.1" fill="#151515"/>
<ellipse cx="688.0" cy="430.0" rx="1.1" ry="1.1" fill="#151515"/>
<ellipse cx="686.0" cy="433.3" rx="1.1" ry="1.1" fill="#151515"/>
<ellipse cx="690.5" cy="433.0" rx="1.1" ry="1.1" fill="#151515"/>
<rect x="523.6" y="396.4" width="182.69999999999993" height="5.6" rx="2.8" fill="none" stroke="#151515" stroke-width="2.2" transform="rotate(0.38 615.0 399.2)"/>
<path d="M528.5,401.9 L545.2,479.6 Q546.2,482.1 549.0,482.1 L686.2,482.1 Q689.0,482.1 690.0,479.6 L702,403" fill="none" stroke="#151515" stroke-width="2.3" stroke-linejoin="round"/>
<path d="M528.5,401 L533.8,401.5 L534.3,405 L532.5,408.3 L530,408 Z" fill="#151515"/>
<g stroke="#151515" stroke-width="2.1" fill="none" stroke-linecap="round">
<path d="M132.3,490 L131,507"/>
<path d="M131.2,539.5 L128.5,557"/>
<path d="M258.7,360.5 L257.6,446.5"/>
<path d="M257.5,477.5 L257.5,501.5"/>
<path d="M375.2,488 L375,505.5"/>
<path d="M375,538.5 L375,553.5"/>
<path d="M500.2,362.3 L501.9,446.8"/>
<path d="M502.5,479 L502.6,503.5"/>
<path d="M622,491 L622.1,509"/>
<path d="M622,541.5 L622,555.5"/>
</g>
</svg>
</body></html>
